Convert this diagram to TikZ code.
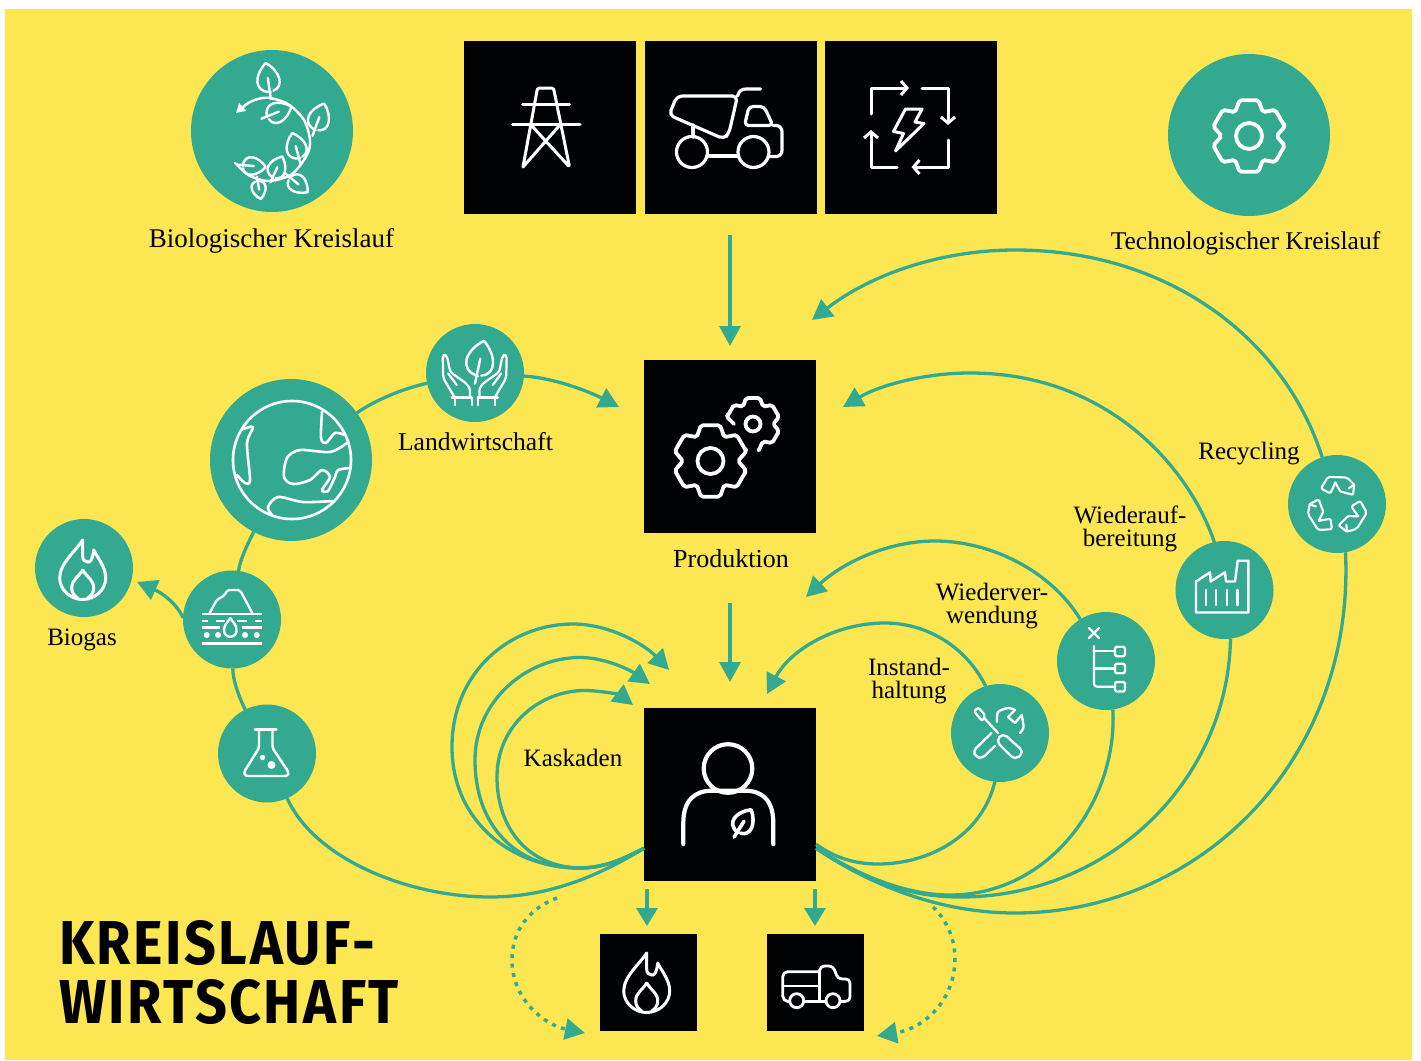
\documentclass[tikz,border=0pt]{standalone}
\usepackage{fontspec}
\setmainfont{Liberation Serif}
\newfontfamily\titlefont[FakeStretch=0.9,LetterSpace=4]{Fira Sans}
\usetikzlibrary{arrows.meta}

\definecolor{kreisgelb}{HTML}{FCE651}
\definecolor{kreisteal}{HTML}{33AA90}
\definecolor{kreisblack}{HTML}{010204}

\tikzset{
    blackbox/.style={fill=kreisblack,inner sep=0pt,outer sep=0pt,minimum width=172pt,minimum height=173pt},
    smallbox/.style={fill=kreisblack,inner sep=0pt,outer sep=0pt,minimum size=97pt},
    tealdisc/.style={circle,fill=kreisteal,inner sep=0pt,outer sep=0pt,minimum size=98pt},
    bigdisc/.style={tealdisc,minimum size=162pt},
    flowline/.style={kreisteal,line width=3.3pt},
    flowtip/.style={flowline,-{Triangle[length=20pt,width=21pt]}},
    flowdash/.style={flowtip,line width=3.5pt,dash pattern=on 4pt off 5.5pt},
    iconline/.style={white,line width=2.4pt,line cap=round,line join=round},
    iconthick/.style={iconline,line width=3.8pt},
    textlabel/.style={text=black,align=center,inner sep=0pt,font=\fontsize{25}{23}\selectfont},
}

% icon macros: position first, all in picture points
\newcommand{\leaficon}[5][]{%
    \begin{scope}[shift={(#2,#3)},rotate=#4,scale=#5]
        \draw[iconline,#1] (1,-14) .. controls (-17,-12) and (-14,6) .. (0,17)
            .. controls (14,6) and (16,-10) .. (4,-13);
        \draw[iconline,#1] (0,-21) -- (0,1);
    \end{scope}}
\newcommand{\flameicon}[2]{%
    \begin{scope}[shift={(#1,#2)},yscale=-1]
        \draw[iconline,line width=3pt] (0,0) .. controls (-6,10) and (-23,23) .. (-23,38)
            .. controls (-23,50) and (-12,59.5) .. (0,59.5)
            .. controls (12,59.5) and (23,50) .. (23,38)
            .. controls (23,27) and (15,18) .. (11,10)
            .. controls (10,20) and (7,23) .. (5,22)
            .. controls (2,22) and (0,20) .. (0,16) -- cycle;
        \draw[iconline,line width=3pt] (0,30) .. controls (-5,38) and (-11,40) .. (-11,48)
            .. controls (-11,53) and (-8,56) .. (-5,58);
        \draw[iconline,line width=3pt] (0,30) .. controls (5,38) and (11,40) .. (11,48)
            .. controls (11,53) and (8,56) .. (5,58);
    \end{scope}}
\newcommand{\gearicon}[5]{%
    \draw[iconthick,rounded corners=2pt,shift={(#1,#2)}] (15:#3)
        \foreach \a in {30,90,...,330} {-- (\a-15:#3) -- (\a+15:#3) -- (\a+30:#4)} -- cycle;
    \draw[iconthick] (#1,#2) circle (#5);}

\begin{document}
\begin{tikzpicture}[x=1pt,y=1pt]

    \useasboundingbox (0,0) rectangle (1421,-1060);
    \fill[white] (0,0) rectangle (1421,-1060);
    \fill[kreisgelb] (5,-9) rectangle (1412,-1060);

    % boxes on top
    \node[blackbox] (mast) at (550,-127.5) {};
    \node[blackbox] (dumper) at (731,-127.5) {};
    \node[blackbox] (energy) at (911,-127.5) {};
    \node[blackbox] (factorybox) at (730,-446.5) {};
    \node[blackbox] (person) at (730,-794.5) {};
    \node[smallbox] (fuel) at (648.5,-982) {};
    \node[smallbox] (pickup) at (815.5,-982) {};

    % discs
    \node[bigdisc] (bio) at (272,-131) {};
    \node[bigdisc] (techno) at (1249,-135) {};
    \node[bigdisc] (earth) at (291,-460) {};
    \node[tealdisc] (agri) at (475,-373) {};
    \node[tealdisc] (flame) at (84,-568) {};
    \node[tealdisc] (lagoon) at (232,-619.5) {};
    \node[tealdisc] (flask) at (267,-753.5) {};
    \node[tealdisc] (tools) at (1000,-733) {};
    \node[tealdisc] (tree) at (1106,-661) {};
    \node[tealdisc] (plant) at (1224.5,-590) {};
    \node[tealdisc] (recycle) at (1337,-504) {};

    % labels
    \node[textlabel,font=\fontsize{27}{23}\selectfont] (biolabel) at (271.5,-240.5) {Biologischer Kreislauf};
    \node[textlabel,font=\fontsize{25.5}{23}\selectfont] (technolabel) at (1245.5,-243) {Technologischer Kreislauf};
    \node[textlabel,font=\fontsize{25.6}{23}\selectfont] (agrilabel) at (475.5,-441.5) {Landwirtschaft};
    \node[textlabel] (flamelabel) at (82,-640) {Biogas};
    \node[textlabel,font=\fontsize{26}{23}\selectfont] (prodlabel) at (731,-558.5) {Produktion};
    \node[textlabel] (cascadelabel) at (573,-758) {Kaskaden};
    \node[textlabel] (recyclelabel) at (1249,-454) {Recycling};
    \node[textlabel] (plantlabel) at (1130,-529) {Wiederauf-\\bereitung};
    \node[textlabel] (treelabel) at (992,-606.5) {Wiederver-\\wendung};
    \node[textlabel] (toolslabel) at (909,-681.5) {Instand-\\haltung};
    \node[anchor=north west,inner sep=0pt,align=left,text=black,
        font=\titlefont\bfseries\fontsize{62}{59}\selectfont] (title) at (59,-920) {KREISLAUF-\\WIRTSCHAFT};

    % free ends of the connectors
    \coordinate (inA) at (730,-235);
    \coordinate (outA) at (730,-346);
    \coordinate (inB) at (730,-603);
    \coordinate (outB) at (730,-682);
    \coordinate (inFuel) at (647,-889);
    \coordinate (outFuel) at (647,-926);
    \coordinate (inPickup) at (815,-889);
    \coordinate (outPickup) at (815,-926);
    \coordinate (toProdAgri) at (619,-407);
    \coordinate (toProdOne) at (812,-320);
    \coordinate (toProdTwo) at (843,-407);
    \coordinate (toPersonOne) at (806,-597);
    \coordinate (toPersonTwo) at (767,-694);
    \coordinate (toFlame) at (137,-582);
    \coordinate (cascOne) at (669,-670);
    \coordinate (cascTwo) at (650,-684);
    \coordinate (cascThree) at (633,-705);
    \coordinate (dotLeftA) at (557,-898);
    \coordinate (dotLeftB) at (585,-1033);
    \coordinate (dotRightA) at (933,-907);
    \coordinate (dotRightB) at (877,-1036);

    % straight arrows
    \draw[flowtip] (inA) -- (outA);
    \draw[flowtip] (inB) -- (outB);
    \draw[flowtip,-{Triangle[length=18pt,width=21pt]}] (inFuel) -- (outFuel);
    \draw[flowtip,-{Triangle[length=18pt,width=21pt]}] (inPickup) -- (outPickup);

    % biological side
    \draw[flowline] (flask) .. controls (238,-695) and (233,-680) .. (lagoon);
    \draw[flowline] (lagoon) .. controls (240,-560) and (247,-545) .. (earth);
    \draw[flowline] (earth) .. controls (375,-400) and (405,-388) .. (agri);
    \draw[flowtip] (agri) .. controls (555,-378) and (590,-392) .. (toProdAgri);
    \draw[flowtip] (lagoon.178) .. controls (176,-602) and (160,-592) .. (toFlame);
    \draw[flowline] (flask) .. controls (315,-860) and (410,-897) .. (490,-897)
        .. controls (550,-897) and (600,-875) .. (person.212);

    % cascades
    \draw[flowtip] (person.212) .. controls (625,-858) and (605,-868) .. (580,-868)
        .. controls (510,-868) and (452,-820) .. (452,-747)
        .. controls (452,-672) and (510,-624) .. (573,-624)
        .. controls (610,-624) and (645,-645) .. (cascOne);
    \draw[flowtip] (person.212) .. controls (625,-858) and (605,-868) .. (578,-868)
        .. controls (515,-868) and (475,-825) .. (475,-760)
        .. controls (475,-702) and (525,-657.5) .. (580,-657.5)
        .. controls (605,-657.5) and (630,-670) .. (cascTwo);
    \draw[flowtip] (person.212) .. controls (625,-858) and (605,-868) .. (582,-868)
        .. controls (530,-868) and (497,-830) .. (497,-777)
        .. controls (497,-725) and (540,-690.5) .. (585,-690.5)
        .. controls (600,-690.5) and (620,-695) .. (cascThree);

    % technical side
    \draw[flowtip] (recycle) .. controls (1285,-340) and (1170,-250) .. (1015,-250)
        .. controls (940,-250) and (870,-275) .. (toProdOne);
    \draw[flowline] (recycle.-80) .. controls (1355,-760) and (1200,-913) .. (1015,-913)
        .. controls (940,-913) and (870,-885) .. (person.-32);
    \draw[flowtip] (plant.102) .. controls (1190,-470) and (1110,-373) .. (970,-373)
        .. controls (925,-373) and (880,-385) .. (toProdTwo);
    \draw[flowline] (plant.-83) .. controls (1228,-780) and (1110,-897) .. (960,-897)
        .. controls (900,-897) and (860,-875) .. (person.-32);
    \draw[flowtip] (tree) .. controls (1050,-570) and (990,-541) .. (935,-541)
        .. controls (885,-541) and (840,-565) .. (toPersonOne);
    \draw[flowline] (tree.-82) .. controls (1118,-800) and (1050,-895) .. (950,-895)
        .. controls (900,-895) and (850,-870) .. (person.-32);
    \draw[flowtip] (tools.107) .. controls (965,-645) and (925,-623) .. (885,-623)
        .. controls (835,-623) and (790,-650) .. (toPersonTwo);
    \draw[flowline] (tools.-96) .. controls (982,-835) and (930,-864) .. (878,-864)
        .. controls (855,-864) and (835,-858) .. (person.-30);

    % dotted arrows
    \draw[flowdash] (dotLeftA) .. controls (530,-908) and (512,-930) .. (512,-960)
        .. controls (512,-1000) and (545,-1025) .. (dotLeftB);
    \draw[flowdash] (dotRightA) .. controls (947,-920) and (955,-940) .. (955,-958)
        .. controls (955,-1000) and (925,-1028) .. (dotRightB);

    % icon: vine
    \draw[iconline,-{Triangle[length=9pt,width=10pt]}] plot[smooth] coordinates {(235,-163) (250,-176) (270,-181)
        (292,-174) (307,-155) (310,-140) (304,-120) (288,-104) (267,-97.7) (250,-102) (236,-113)};
    \leaficon{268}{-79}{8}{0.95}
    \leaficon{278}{-112}{-68}{0.85}
    \leaficon{319}{-118}{-20}{0.9}
    \leaficon{296}{-147}{15}{0.85}
    \leaficon{277}{-168}{-25}{0.75}
    \leaficon{253}{-166}{-95}{0.75}
    \leaficon{298}{-184}{-130}{0.75}
    \leaficon{259}{-189}{190}{0.6}

    % icon: mast
    \draw[iconline,line width=3pt,rounded corners=1.5pt] (523,-167) -- (537.5,-88) -- (553.5,-88) -- (569.5,-167)
        -- (532,-126) (559,-126) -- (523,-167);
    \draw[iconline,line width=3pt] (522.5,-104) -- (569.5,-104) (512.5,-124.5) -- (580,-124.5);

    % icon: dumper
    \begin{scope}[iconline,line width=3.2pt]
        \draw[rounded corners=5pt] (737.5,-96) -- (677,-96) -- (669,-115) -- (724,-139) -- (729,-133) -- cycle;
        \draw (737.5,-96) .. controls (739,-90) and (743,-89) .. (746.5,-89) -- (760.5,-89);
        \draw (693,-125) -- (693,-137);
        \draw (692,-152) circle (15.5);
        \draw (753.5,-152) circle (15.5);
        \draw (707,-156) -- (738.5,-156);
        \draw[rounded corners=4pt] (744.5,-125.5) -- (749,-106.5) -- (764,-106.5) -- (773,-125.5) -- cycle;
        \draw[rounded corners=6pt] (773,-125.5) -- (782,-125.5) -- (782,-156.5) -- (768,-156.5);
    \end{scope}

    % icon: energy loop
    \begin{scope}[iconline,line width=3pt]
        \draw[-{Straight Barb[length=6pt,width=14pt]}] (871.5,-114) -- (871.5,-88) -- (909,-88);
        \draw[-{Straight Barb[length=6pt,width=14pt]}] (922,-88) -- (948,-88) -- (948,-125);
        \draw[-{Straight Barb[length=6pt,width=14pt]}] (948,-140) -- (948,-167) -- (911.5,-167);
        \draw[-{Straight Barb[length=6pt,width=14pt]}] (897,-167) -- (871,-167) -- (871,-130);
        \draw (905.5,-109) -- (922,-109) -- (915,-122) -- (924,-123.5) -- (895.5,-151) -- (903.5,-133.5) -- (893.5,-131.5) -- cycle;
    \end{scope}

    % icon: gears
    \gearicon{1249}{-136}{37}{27.5}{13}
    \gearicon{710.5}{-461}{37}{27.5}{13}
    \draw[iconthick,rounded corners=2pt,shift={(753,-424)}] (180:19) -- (165:27)
        \foreach \a in {150,90,30,-30} {-- (\a+15:27) -- (\a-15:27) -- (\a-30:20)} -- (-78:27);
    \draw[iconthick] (753,-424) circle (7.5);

    % icon: globe
    \begin{scope}[iconline,line width=2.6pt]
        \draw (292,-460) circle (59);
        \draw plot[smooth] coordinates {(241,-430) (253,-427) (247,-443) (250,-480) (245,-483) (237,-475)};
        \draw plot[smooth] coordinates {(322,-412) (321,-438) (326,-443) (335,-433) (345,-435)};
        \draw plot[smooth] coordinates {(347,-443) (330,-452) (300,-450) (287,-458) (284,-477) (293,-484) (310,-480)
            (322,-470) (330,-477) (322,-490) (328,-491) (335,-477) (338,-470) (350,-468)};
        \draw plot[smooth] coordinates {(272,-515) (268,-507) (278,-497) (303,-502) (333,-501)};
    \end{scope}

    % icon: hands
    \leaficon{480}{-360}{-12}{1.15}
    \foreach \s in {1,-1} {
        \begin{scope}[shift={(474.7,-373)},xscale=\s,iconline,line width=2.2pt]
            \draw (-23,-24.5) -- (-3,-24.5) (-20,-24.5) -- (-20,-32) (-3,-24.5) -- (-3,-32);
            \draw[rounded corners=3pt] (-20,-24.5) -- (-31.5,-5) -- (-32,18) -- (-28,18) -- (-24.5,1)
                -- (-9,-10) -- (-4.7,-15) -- (-4.7,-24.5);
            \draw[rounded corners=2pt] (-26.5,-0.5) -- (-18,-12);
        \end{scope}
    }

    % icon: flames
    \flameicon{82.7}{-540}
    \flameicon{646.7}{-953}

    % icon: lagoon
    \begin{scope}[iconline,line width=2.3pt]
        \draw[rounded corners=2pt] (210,-612.5) -- (216.7,-600) -- (225,-595) -- (227,-590) -- (240,-590) -- (252,-612.5);
        \draw[line cap=butt] (201.5,-614) -- (261.5,-614) (201.5,-643.5) -- (261.5,-643.5);
        \draw[line cap=butt] (201.5,-620.7) -- (208,-620.7) (216,-620.7) -- (225,-620.7) (237,-620.7) -- (247,-620.7) (255,-620.7) -- (261.5,-620.7);
        \draw[line cap=butt] (201.5,-627.5) -- (220,-627.5) (242,-627.5) -- (261.5,-627.5);
        \draw (230.3,-618) .. controls (227,-623) and (224,-625) .. (224,-630.5) arc (180:360:6.3) .. controls (236.6,-625) and (233.6,-623) .. cycle;
        \fill[white] (206.7,-635) circle (3) (218,-635) circle (3) (245,-635) circle (3) (256.7,-635) circle (3);
    \end{scope}

    % icon: flask
    \begin{scope}[iconline,line width=2.4pt]
        \draw (255,-729.5) -- (276.5,-729.5);
        \draw[rounded corners=2.5pt] (259,-729.5) -- (259,-748) -- (244,-772) -- (245,-776) -- (288,-776) -- (288.5,-772) -- (272.5,-748) -- (272.5,-729.5);
        \fill[white] (262.5,-757.5) circle (2.7) (271.5,-765) circle (4);
    \end{scope}

    % icon: person
    \draw[iconthick,line width=4.2pt] (728,-768.5) circle (24.3);
    \draw[iconthick,line width=4.2pt] (683.3,-844) -- (683.3,-823) .. controls (683.3,-800) and (695,-790.7) .. (712,-790.7)
        -- (745,-790.7) .. controls (762,-790.7) and (773.3,-800) .. (773.3,-823) -- (773.3,-844);
    \leaficon[line width=3.6pt]{743.5}{-822}{-32}{0.85}

    % icon: pickup
    \begin{scope}[iconline,line width=2.8pt]
        \draw (796.7,-1000.7) circle (7);
        \draw (833,-1000.7) circle (7);
        \draw (782.7,-986) -- (819.3,-986) (819.3,-971.7) -- (819.3,-1001.7);
        \draw (804,-1001.7) -- (826,-1001.7);
        \draw[rounded corners=5pt] (789.5,-1001.7) -- (782.7,-1001) -- (782.7,-971.7) -- (819.3,-971.7);
        \draw[rounded corners=4pt] (819.3,-971.7) -- (820.5,-966) -- (833,-966) -- (838,-979) -- (850,-979) -- (850,-1001) -- (840,-1001.7);
    \end{scope}

    % icon: recycling
    \foreach \a in {0,125,240} {
        \begin{scope}[shift={(1337,-506)},rotate=\a,yshift=3.5pt,iconline,line width=2.1pt]
            \draw[rounded corners=2pt] (-1.7,20) -- (-6.7,9) -- (-16,14) -- (-9,25.7) -- (10,25) -- (17,18);
            \draw[rounded corners=1pt] (-1.7,20) -- (3.3,11) -- (16,7.7) -- (17.3,18.3) -- (11.7,14);
        \end{scope}
    }

    % icon: factory
    \begin{scope}[iconline,line width=2.4pt]
        \draw (1196,-612.5) -- (1196,-581.5) -- (1210,-572.3) -- (1210.7,-581.5) -- (1225,-572.3) -- (1226,-581.5) -- (1235,-581.5)
            -- (1237.7,-560.7) -- (1248.3,-560.7) -- (1248.3,-612.5) -- cycle;
        \foreach \x in {1206,1216,1226.7,1237.3} {
            \draw (\x,-590) -- (\x,-605);
        }
    \end{scope}

    % icon: tree
    \begin{scope}[iconline,line width=2.3pt]
        \draw (1089,-628) -- (1099,-638) (1099,-628) -- (1089,-638);
        \draw[rounded corners=3pt] (1094,-646) -- (1094,-686.7) -- (1115,-686.7);
        \draw (1094,-651) -- (1115,-651) (1094,-668.5) -- (1115,-668.5);
        \foreach \y in {-651.5,-668.5,-686.7} {
            \draw[rounded corners=1.5pt] (1115,\y+4.7) rectangle (1125,\y-4.7);
        }
    \end{scope}

    % icon: tools
    \begin{scope}[iconline,line width=2.3pt]
        \draw[rounded corners=2pt] (974,-711) -- (978.5,-707.5) -- (985.5,-716) -- (982,-721) -- cycle;
        \draw (985,-719) -- (998,-733);
        \draw[rounded corners=5pt] (1003,-733) -- (1024,-752) -- (1015,-760) -- (996,-741) -- cycle;
        \draw[rounded corners=4pt] (991.5,-733) -- (973,-751) -- (976,-757) -- (982,-758.5) -- (995,-746);
        \draw plot[smooth] coordinates {(997,-722) (998,-712) (1008,-708) (1015,-710)};
        \draw (1015,-710) -- (1008,-717) -- (1015,-723) -- (1021.7,-715);
        \draw plot[smooth] coordinates {(1021.7,-715) (1023.5,-727) (1020,-733)};
    \end{scope}

\end{tikzpicture}
\end{document}
